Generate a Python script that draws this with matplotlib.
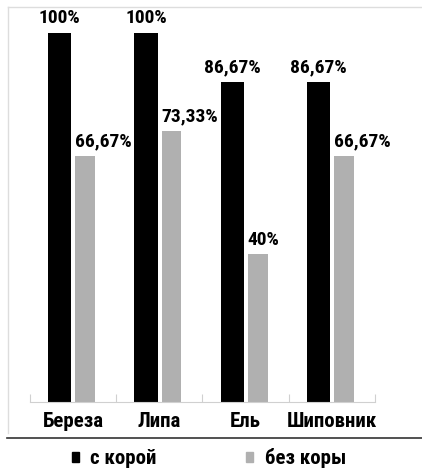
import numpy as np
import matplotlib
matplotlib.use('Agg')
import matplotlib.pyplot as plt
from matplotlib.patches import Patch
from matplotlib.lines import Line2D

# шрифт: узкий жирный, с запасным
plt.rcParams['font.family'] = ['Roboto Condensed', 'Fira Sans Condensed', 'DejaVu Sans']
plt.rcParams['font.weight'] = 'bold'

# данные
trees = ['Береза', 'Липа', 'Ель', 'Шиповник']
with_bark = [100, 100, 86.67, 86.67]
without_bark = [66.67, 73.33, 40, 66.67]
series_names = ['с корой', 'без коры']

fig = plt.figure(figsize=(4.22, 4.72), dpi=100)
ax = fig.add_axes([30 / 422, 70 / 472, 345 / 422, 395 / 472])

x = np.arange(len(trees))
b1 = ax.bar(x - 0.155, with_bark, width=0.27, color='black')
b2 = ax.bar(x + 0.14, without_bark, width=0.23, color='#b0b0b0')

def fmt(v):
    s = ('%.2f' % v).rstrip('0').rstrip('.')
    return s.replace('.', ',') + '%'

# подписи: над черными по центру, над серыми от левого края столбика
for rect, v in zip(b1, with_bark):
    ax.annotate(fmt(v), (rect.get_x() + rect.get_width() / 2, v),
                xytext=(0, 4), textcoords='offset points',
                ha='center', va='bottom', fontsize=14, fontweight='bold')
for rect, v in zip(b2, without_bark):
    ax.annotate(fmt(v), (rect.get_x(), v),
                xytext=(0, 4), textcoords='offset points',
                ha='left', va='bottom', fontsize=14, fontweight='bold')

ax.set_xlim(-0.5, len(trees) - 0.5)
ax.set_ylim(0, 107)

# оси: только светлая нижняя линия с засечками между группами
for side in ['top', 'right', 'left']:
    ax.spines[side].set_visible(False)
ax.spines['bottom'].set_color('#d0d0d0')
ax.set_yticks([])
ax.set_xticks(np.arange(len(trees) + 1) - 0.5)
ax.set_xticklabels([])
ax.tick_params(axis='x', which='major', direction='in', length=6, color='#d0d0d0')
ax.set_xticks(x, minor=True)
ax.set_xticklabels(trees, minor=True, fontsize=15, fontweight='bold')
ax.tick_params(axis='x', which='minor', length=0, pad=7)

# рамка вокруг диаграммы и линия над легендой
fig.add_artist(Line2D([8 / 422, 1], [465 / 472, 465 / 472], color='#dddddd', lw=1))
fig.add_artist(Line2D([8 / 422, 8 / 422], [39 / 472, 465 / 472], color='#dddddd', lw=1))
fig.add_artist(Line2D([7 / 422, 1], [34 / 472, 34 / 472], color='#333333', lw=1.2))

handles = [Patch(color='black'), Patch(color='#b0b0b0')]
fig.legend(handles, series_names, loc='center', bbox_to_anchor=(0.495, 0.029),
           ncol=2, frameon=False, fontsize=15, handlelength=0.34, handleheight=0.34,
           handletextpad=0.55, columnspacing=4.3)

fig.savefig('out.png', dpi=100)
